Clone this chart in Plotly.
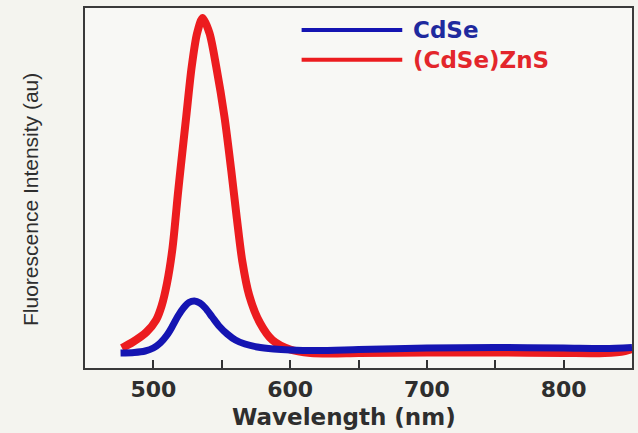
import plotly.graph_objects as go

# ---- data (intensity in arbitrary units) ----
wl_cdse = [476, 486, 494, 500, 505, 510, 514, 518, 522, 526, 530, 534, 538, 543,
           548, 554, 560, 567, 576, 588, 600, 620, 650, 700, 750, 800, 830, 850]
int_cdse = [15, 15.5, 17, 20, 25, 33, 42, 52, 60, 65.5, 67, 65, 60, 51,
            42, 34, 28, 24, 21, 19, 18, 17.5, 18.5, 20, 20.5, 20, 19.5, 20.5]

wl_zns = [477, 485, 495, 502, 506, 510, 514, 518, 520, 524, 528, 532, 536, 541,
          546, 552, 557, 561, 565, 570, 578, 587, 600, 615, 630, 650, 700, 750,
          800, 830, 845, 850]
int_zns = [20, 26, 36, 48, 62, 85, 120, 175, 201, 251, 301, 335, 350, 335,
           301, 251, 197, 150, 107, 73, 45, 28, 18.5, 15, 14.5, 15, 15.5, 15.5,
           15, 15, 17, 19]

series_names = ["CdSe", "(CdSe)ZnS"]
tick_vals = [500, 550, 600, 650, 700, 750, 800]
tick_text = ["500", "", "600", "", "700", "", "800"]

RED = "#ec1c1f"
BLUE = "#1515b2"
TXT = "#2e2e2e"
WIDE = "DejaVu Sans, Verdana, sans-serif"

fig = go.Figure()
fig.add_trace(go.Scatter(x=wl_zns, y=int_zns, mode="lines", name=series_names[1],
                         line=dict(color=RED, width=8, shape="spline", smoothing=0.8)))
fig.add_trace(go.Scatter(x=wl_cdse, y=int_cdse, mode="lines", name=series_names[0],
                         line=dict(color=BLUE, width=7, shape="spline", smoothing=0.8)))

# manual legend (long sample lines like the reference)
leg = [(series_names[0], BLUE, "#1f2a9e", 0.939), (series_names[1], RED, "#e3262b", 0.856)]
for name, lc, tc, yy in leg:
    fig.add_shape(type="line", xref="paper", yref="paper", x0=0.396, x1=0.580,
                  y0=yy, y1=yy, line=dict(color=lc, width=4))
    fig.add_annotation(xref="paper", yref="paper", x=0.596, y=yy, xanchor="left",
                       yanchor="middle", text=name, showarrow=False,
                       font=dict(family=WIDE, size=23, color=tc, weight="bold"))

# y-axis title
fig.add_annotation(xref="paper", yref="paper", x=-0.0985, y=0.467, xanchor="center",
                   yanchor="middle", textangle=-90, showarrow=False,
                   text="Fluorescence Intensity (au)",
                   font=dict(family="Liberation Sans, Arial, sans-serif",
                             size=21, color=TXT))
# x-axis title
fig.add_annotation(xref="paper", yref="paper", x=0.474, y=-0.137, xanchor="center",
                   yanchor="middle", showarrow=False, text="Wavelength (nm)",
                   font=dict(family=WIDE, size=23, color=TXT, weight="bold"))

fig.update_layout(
    width=638, height=433,
    margin=dict(l=85, r=4, t=8, b=65),
    paper_bgcolor="#f4f4ef",
    plot_bgcolor="#f8f8f5",
    showlegend=False,
    xaxis=dict(range=[450, 850], tickvals=tick_vals, ticktext=tick_text,
               ticks="inside", ticklen=8, tickwidth=2, tickcolor="#333",
               showline=True, linecolor="#3a3a3a", linewidth=2, mirror=True,
               showgrid=False, zeroline=False, ticklabelstandoff=1,
               tickfont=dict(family=WIDE, size=22, color=TXT, weight="bold")),
    yaxis=dict(range=[0, 360], showticklabels=False, ticks="",
               showline=True, linecolor="#3a3a3a", linewidth=2, mirror=True,
               showgrid=False, zeroline=False),
)

fig.write_html("out.html", config={"displayModeBar": False},
               post_script="document.body.style.margin='0';document.body.style.background='#f4f4ef';")
